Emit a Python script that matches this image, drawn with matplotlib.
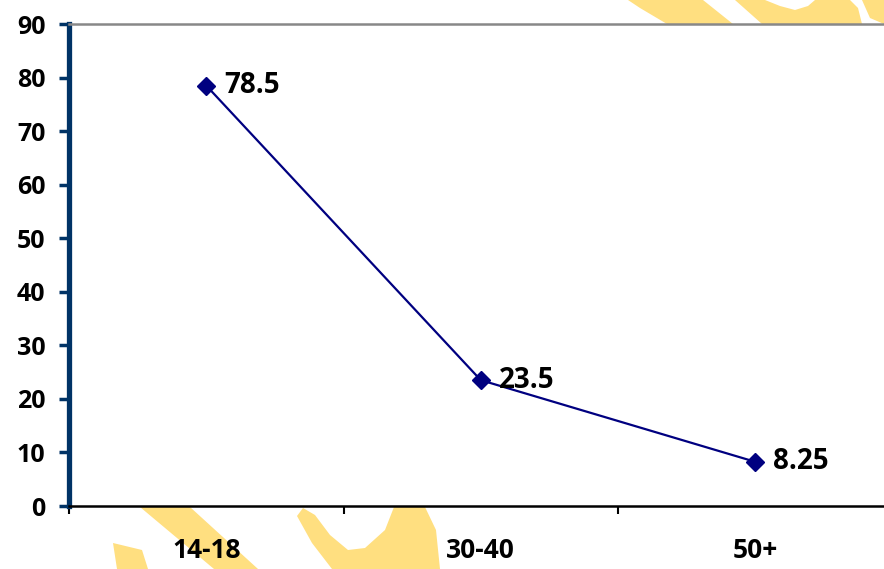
import matplotlib.pyplot as plt
from matplotlib.patches import Polygon

# age groups and the values plotted for each
groups = ['14-18', '30-40', '50+']
values = [78.5, 23.5, 8.25]
value_labels = ['78.5', '23.5', '8.25']
y_ticks = list(range(0, 100, 10))

W, H = 884, 569
plt.rcParams['font.family'] = ['Open Sans', 'DejaVu Sans']
plt.rcParams['font.weight'] = 'bold'

fig = plt.figure(figsize=(W / 100, H / 100), dpi=100)
fig.patch.set_facecolor('white')

# pale yellow background logo pieces (pixel coords, y from top)
logo_shapes = [
    [(140, 507), (190, 507), (258, 569), (214, 569)],
    [(113, 543), (142, 550), (148, 569), (117, 569)],
    [(297, 516), (303, 508), (315, 515), (330, 535), (348, 550), (365, 548),
     (385, 530), (394, 507), (425, 507), (436, 530), (440, 569), (332, 569),
     (312, 543)],
    [(628, 0), (703, 0), (733, 24), (667, 24), (640, 8)],
    [(735, 0), (765, 0), (780, 6), (795, 10), (808, 6), (815, 0), (850, 0),
     (858, 8), (862, 24), (762, 24)],
    [(862, 0), (884, 0), (884, 24), (870, 18)],
]
for pts in logo_shapes:
    fig.patches.append(Polygon([(x / W, 1 - y / H) for x, y in pts],
                               closed=True, transform=fig.transFigure,
                               facecolor='#ffdf80', edgecolor='none', zorder=0))

left, right, top, bottom = 69, 892.5, 24, 506
ax = fig.add_axes([left / W, 1 - bottom / H, (right - left) / W, (bottom - top) / H])
ax.set_facecolor('white')
ax.set_zorder(1)

x = list(range(len(groups)))
ax.plot(x, values, color='#000080', linewidth=1.6, marker='D',
        markersize=9, markerfacecolor='#000080', markeredgecolor='#000080',
        clip_on=False)

for xi, v, lab in zip(x, values, value_labels):
    ax.annotate(lab, (xi, v), xytext=(13, 0), textcoords='offset points',
                ha='left', va='center', fontsize=20, fontweight='bold',
                color='black')

ax.set_xlim(-0.5, len(groups) - 0.5)
ax.set_ylim(0, 90)

ax.set_yticks(y_ticks)
ax.tick_params(axis='y', length=7, width=2.5, color='#003366', pad=10,
               labelsize=18, labelcolor='black')
for t in ax.get_yticklabels():
    t.set_fontweight('bold')

ax.set_xticks(x)
ax.set_xticklabels(groups, fontsize=19, fontweight='bold')
ax.tick_params(axis='x', which='major', length=0, pad=22)
ax.set_xticks([i - 0.5 for i in range(len(groups) + 1)], minor=True)
ax.tick_params(axis='x', which='minor', length=6, width=1.5, color='black',
               direction='out')

ax.spines['left'].set_color('#003366')
ax.spines['left'].set_linewidth(3.8)
ax.spines['top'].set_color('#888888')
ax.spines['top'].set_linewidth(1.8)
ax.spines['bottom'].set_color('black')
ax.spines['bottom'].set_linewidth(1.8)
ax.spines['right'].set_visible(False)

fig.savefig('out.png', dpi=100, facecolor='white')
